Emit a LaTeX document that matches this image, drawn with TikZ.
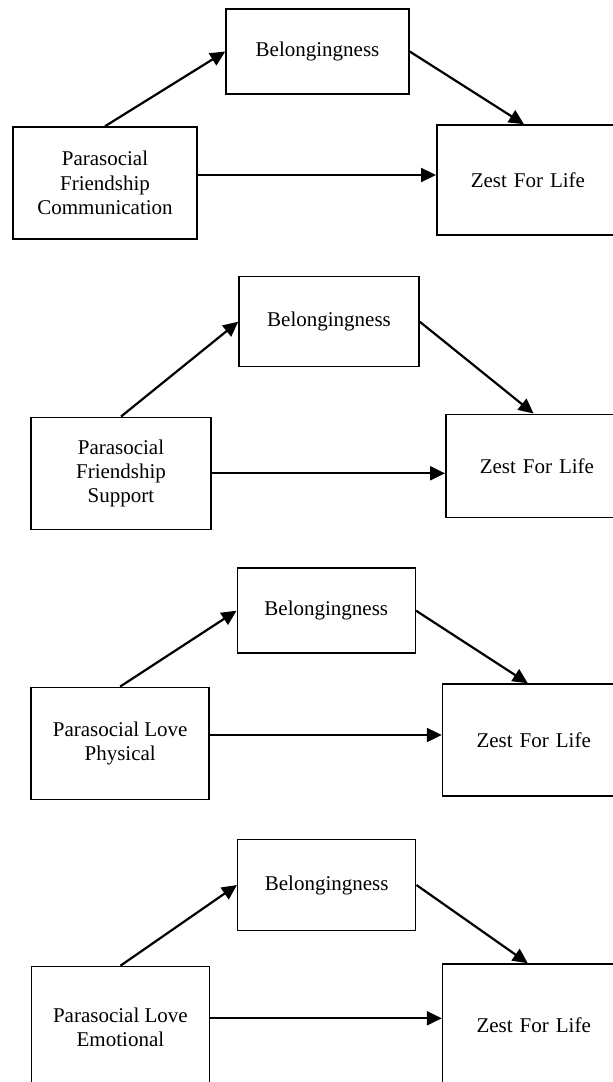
\documentclass[tikz,border=0pt]{standalone}
\usepackage{fontspec}
\setmainfont{Liberation Serif}
\usetikzlibrary{arrows.meta}

\begin{document}
\begin{tikzpicture}[x=1pt, y=-1pt, every node/.style={rectangle, draw, line width=1.5pt, font=\fontsize{21}{24.3}\selectfont, align=center, inner sep=0pt},
    zest/.style={anchor=west, text width=200pt, inner xsep=34pt, align=left},
    arrow/.style={-{Triangle[length=15pt, width=14pt]}, line width=2.2pt}]
        \useasboundingbox (0, 0) rectangle (613, 1082);
        \clip (0, 0) rectangle (613, 1082);
        % friendship communication
        \node[minimum width=184pt, minimum height=112pt] at (105, 183) (pfcomm) {Parasocial \\ Friendship \\ Communication};
        \node[minimum width=183pt, minimum height=85pt] at (317.5, 51.5) (belong1) {Belongingness};
        \node[zest, minimum height=110pt] at (436, 180) (zest1) {Zest For Life};
        \draw[arrow] (pfcomm.north) -- (belong1.west);
        \draw[arrow] (belong1.east) -- ([xshift=88pt]zest1.north west);
        \draw[arrow] ([yshift=8pt]pfcomm.east) -- ([yshift=8pt]pfcomm.east -| zest1.west);
        % friendship support
        \node[minimum width=180pt, minimum height=112pt] at (121, 473.3) (pfsupp) {Parasocial \\ Friendship \\ Support};
        \node[minimum width=180pt, minimum height=90pt] at (329, 321.7) (belong2) {Belongingness};
        \node[zest, minimum height=103pt] at (445, 465.8) (zest2) {Zest For Life};
        \draw[arrow] (pfsupp.north) -- (belong2.west);
        \draw[arrow] (belong2.east) -- ([xshift=88.6pt]zest2.north west);
        \draw[arrow] (pfsupp.east) -- (pfsupp.east -| zest2.west);
        % love physical
        \node[minimum width=178pt, minimum height=112pt] at (120.2, 743.3) (plphys) {Parasocial Love \\ Physical};
        \node[minimum width=178pt, minimum height=85pt] at (326.3, 610.7) (belong3) {Belongingness};
        \node[zest, minimum height=112pt] at (441.8, 740) (zest3) {Zest For Life};
        \draw[arrow] (plphys.north) -- (belong3.west);
        \draw[arrow] (belong3.east) -- ([xshift=86pt]zest3.north west);
        \draw[arrow] ([yshift=8.3pt]plphys.east) -- ([yshift=8.3pt]plphys.east -| zest3.west);
        % love emotional
        \node[minimum width=178pt, minimum height=122pt] at (120.4, 1027.5) (plemo) {Parasocial Love \\ Emotional};
        \node[minimum width=178pt, minimum height=91.4pt] at (326.7, 885) (belong4) {Belongingness};
        \node[zest, minimum height=122pt] at (441.8, 1025) (zest4) {Zest For Life};
        \draw[arrow] (plemo.north) -- (belong4.west);
        \draw[arrow] (belong4.east) -- ([xshift=86pt]zest4.north west);
        \draw[arrow] ([yshift=9.2pt]plemo.east) -- ([yshift=9.2pt]plemo.east -| zest4.west);
      \end{tikzpicture}
\end{document}
